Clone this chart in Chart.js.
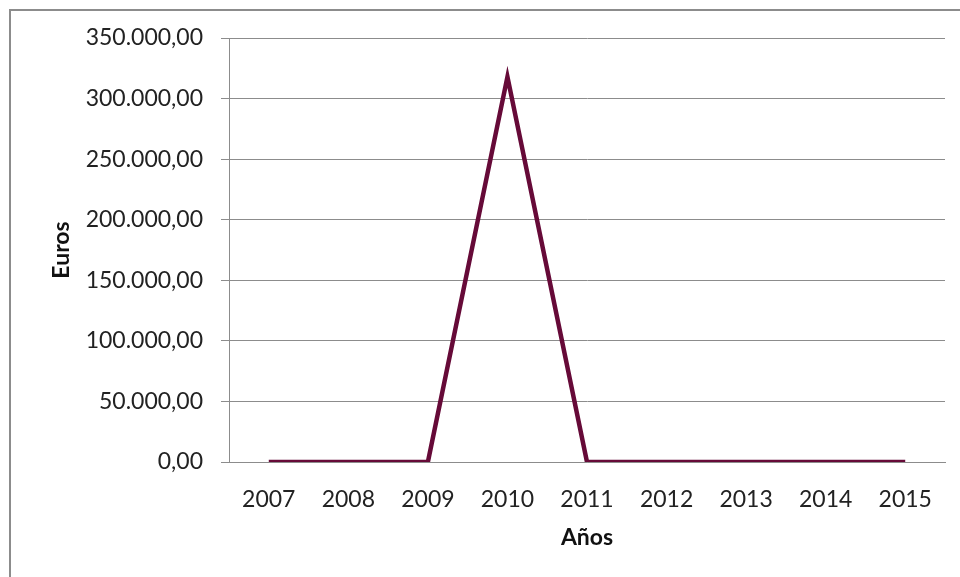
<!DOCTYPE html>
<html>
<head>
<meta charset="utf-8">
<script src="https://cdn.jsdelivr.net/npm/chart.js@4/dist/chart.umd.min.js"></script>
<style>
  html, body { margin: 0; padding: 0; background: #fff; overflow: hidden; }
  #wrap { position: relative; width: 960px; height: 577px; }
  #frame { position: absolute; left: 9px; top: 9px; width: 1000px; height: 1000px;
           border-left: 2px solid #8c8c8c; border-top: 2px solid #8c8c8c; box-sizing: border-box; }
  canvas { position: absolute; left: 0; top: 0; }
</style>
</head>
<body>
<div id="wrap">
  <div id="frame"></div>
  <canvas id="chart" width="960" height="577"></canvas>
</div>
<script>
// years on the x axis
const years = ['2007', '2008', '2009', '2010', '2011', '2012', '2013', '2014', '2015'];
// euros per year
const euros = [0, 0, 0, 318000, 0, 0, 0, 0, 0];
const yMax = 350000;
const yStep = 50000;

function fmtEuro(v) {
    const parts = Math.round(v).toString().replace(/\B(?=(\d{3})+(?!\d))/g, '.');
    return parts + ',00';
}

const ctx = document.getElementById('chart').getContext('2d');
new Chart(ctx, {
    type: 'line',
    data: {
        labels: years,
        datasets: [{
            data: euros,
            borderColor: '#660a38',
            borderWidth: 4.5,
            pointRadius: 0,
            tension: 0,
            fill: false
        }]
    },
    options: {
        responsive: false,
        animation: false,
        layout: { padding: { top: 38, right: 15, left: 48, bottom: 22 } },
        plugins: { legend: { display: false }, tooltip: { enabled: false } },
        scales: {
            x: {
                offset: true,
                grid: { display: false },
                border: { display: true, color: '#8c8c8c', width: 1 },
                ticks: { color: '#222', padding: 16, font: { family: 'Lato', size: 23 } },
                title: { display: true, text: 'Años', color: '#111', padding: { top: 4 },
                         font: { family: 'Lato', size: 23, weight: 'bold' } },
                afterFit: s => { s.height = 577 - 462 - 22; }
            },
            y: {
                min: 0,
                max: yMax,
                grid: { color: '#8c8c8c', lineWidth: 1, tickLength: 8 },
                border: { display: true, color: '#8c8c8c', width: 1 },
                ticks: { stepSize: yStep, color: '#222', padding: 18,
                         font: { family: 'Lato', size: 23 }, callback: v => fmtEuro(v) },
                title: { display: true, text: 'Euros', color: '#111', padding: 0,
                         font: { family: 'Lato', size: 23, weight: 'bold' } },
                afterFit: s => { s.width = 229 - 48; }
            }
        }
    }
});
</script>
</body>
</html>
